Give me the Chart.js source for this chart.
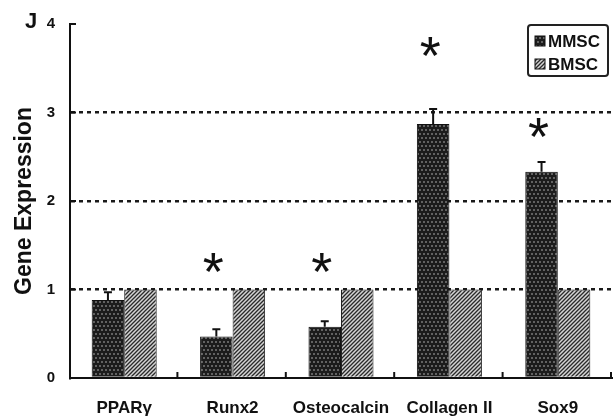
<!DOCTYPE html>
<html><head><meta charset="utf-8">
<script src="https://cdn.jsdelivr.net/npm/chart.js@4.4.1/dist/chart.umd.min.js"></script>
<style>html,body{margin:0;padding:0;background:#fff;}canvas{display:block;}</style>
</head><body>
<canvas id="c" width="616" height="418"></canvas>
<script>
const categories = ['PPARγ', 'Runx2', 'Osteocalcin', 'Collagen II', 'Sox9'];
const mmscValues = [0.88, 0.47, 0.58, 2.87, 2.33];
const mmscErrors = [0.09, 0.08, 0.06, 0.17, 0.11];
const bmscValues = [1, 1, 1, 1, 1];
const starValues = [null, 1.31, 1.31, 3.75, 2.83];
const yTicks = [0, 1, 2, 3, 4];
const seriesNames = ['MMSC', 'BMSC'];
const panelLabel = 'J';
const yTitle = 'Gene Expression';

const FONT = "'Liberation Sans', Arial, sans-serif";

function dotPattern() {
  const c = document.createElement('canvas');
  c.width = 8; c.height = 8;
  const x = c.getContext('2d');
  x.fillStyle = '#1c1c1c'; x.fillRect(0, 0, 8, 8);
  x.fillStyle = '#7a7a7a';
  [[2,2],[6,2],[0,6],[4,6],[8,6]].forEach(p => { x.beginPath(); x.arc(p[0], p[1], 1, 0, Math.PI*2); x.fill(); });
  return x.createPattern(c, 'repeat');
}
function hatchPattern() {
  const c = document.createElement('canvas');
  c.width = 4; c.height = 4;
  const x = c.getContext('2d');
  x.fillStyle = '#d4d4d4'; x.fillRect(0, 0, 4, 4);
  x.strokeStyle = '#2a2a2a'; x.lineWidth = 1.3;
  x.beginPath();
  x.moveTo(-1, 5); x.lineTo(5, -1);
  x.moveTo(-1, 1); x.lineTo(1, -1);
  x.moveTo(3, 5); x.lineTo(5, 3);
  x.stroke();
  return x.createPattern(c, 'repeat');
}
const pats = [dotPattern(), hatchPattern()];

const extras = {
  id: 'extras',
  afterDatasetsDraw(chart) {
    const ctx = chart.ctx;
    const xs = chart.scales.x, ys = chart.scales.y;
    const area = chart.chartArea;
    ctx.save();
    // error bars
    const meta = chart.getDatasetMeta(0);
    ctx.strokeStyle = '#111'; ctx.lineWidth = 2;
    mmscValues.forEach((v, i) => {
      const bx = meta.data[i].x;
      const y0 = ys.getPixelForValue(v);
      const y1 = ys.getPixelForValue(v + mmscErrors[i]);
      ctx.beginPath();
      ctx.moveTo(bx, y0); ctx.lineTo(bx, y1);
      ctx.moveTo(bx - 4, y1); ctx.lineTo(bx + 4, y1);
      ctx.stroke();
    });
    // asterisks
    ctx.fillStyle = '#111';
    ctx.font = '54px ' + FONT;
    ctx.textAlign = 'center';
    ctx.textBaseline = 'alphabetic';
    starValues.forEach((v, i) => {
      if (v == null) return;
      const bx = meta.data[i].x - 3;
      const y = ys.getPixelForValue(v);
      const m = ctx.measureText('*');
      const off = (m.actualBoundingBoxAscent - m.actualBoundingBoxDescent) / 2;
      ctx.fillText('*', bx, y + off);
    });
    // y tick marks (inward)
    ctx.strokeStyle = '#111'; ctx.lineWidth = 2;
    yTicks.forEach(t => {
      if (t === 0) return;
      const y = ys.getPixelForValue(t);
      ctx.beginPath(); ctx.moveTo(area.left, y); ctx.lineTo(area.left + 6, y); ctx.stroke();
    });
    // x boundary tick marks (upward)
    const n = categories.length;
    for (let i = 1; i <= n; i++) {
      const x = xs.left + (xs.right - xs.left) * i / n - 1;
      ctx.beginPath(); ctx.moveTo(x, area.bottom); ctx.lineTo(x, area.bottom - 6); ctx.stroke();
    }
    // panel label
    ctx.font = 'bold 22px ' + FONT;
    ctx.textAlign = 'center'; ctx.textBaseline = 'middle';
    ctx.fillText(panelLabel, 31, 22);
    // legend
    const lx = area.right - 84, ly = area.top + 1, lw = 80, lh = 51;
    ctx.lineWidth = 2; ctx.strokeStyle = '#222';
    ctx.beginPath();
    if (ctx.roundRect) ctx.roundRect(lx, ly, lw, lh, 3); else ctx.rect(lx, ly, lw, lh);
    ctx.stroke();
    ctx.font = 'bold 17px ' + FONT;
    ctx.textAlign = 'left'; ctx.textBaseline = 'middle';
    seriesNames.forEach((name, i) => {
      const cy = ly + 16 + i * 23;
      ctx.fillStyle = pats[i];
      ctx.fillRect(lx + 7, cy - 5, 10, 10);
      ctx.lineWidth = 1; ctx.strokeStyle = '#111';
      ctx.strokeRect(lx + 7, cy - 5, 10, 10);
      ctx.fillStyle = '#111';
      ctx.fillText(name, lx + 20, cy + 1);
    });
    ctx.restore();
  }
};

new Chart(document.getElementById('c'), {
  type: 'bar',
  data: {
    labels: categories,
    datasets: [
      { label: seriesNames[0], data: mmscValues, backgroundColor: pats[0], borderColor: '#111', borderWidth: 1 },
      { label: seriesNames[1], data: bmscValues, backgroundColor: pats[1], borderColor: '#222', borderWidth: 1 }
    ]
  },
  options: {
    responsive: false,
    animation: false,
    devicePixelRatio: 1,
    layout: { padding: { left: 0, top: 23, right: 4, bottom: 0 } },
    datasets: { bar: { categoryPercentage: 0.6, barPercentage: 1.0 } },
    plugins: { legend: { display: false }, tooltip: { enabled: false } },
    scales: {
      x: {
        afterFit(s) { s.height = 40; },
        grid: { display: false, drawTicks: false },
        border: { display: true, color: '#111', width: 2 },
        ticks: { color: '#111', padding: 20, font: { family: FONT, size: 17, weight: 'bold' } }
      },
      y: {
        min: 0, max: 4,
        afterFit(s) { s.width = 70; },
        afterBuildTicks(s) { s.ticks = yTicks.map(v => ({ value: v })); },
        grid: {
          drawTicks: false,
          color: c => (c.tick && c.tick.value > 0 && c.tick.value < 4) ? '#1a1a1a' : 'rgba(0,0,0,0)',
          lineWidth: 2.5
        },
        border: { display: true, color: '#111', width: 2, dash: [4, 4] },
        ticks: { color: '#111', padding: 15, font: { family: FONT, size: 15, weight: 'bold' } },
        title: { display: true, text: yTitle, color: '#111', padding: { top: 11, bottom: 0 }, font: { family: FONT, size: 23, weight: 'bold' } }
      }
    }
  },
  plugins: [extras]
});
</script>
</body></html>
